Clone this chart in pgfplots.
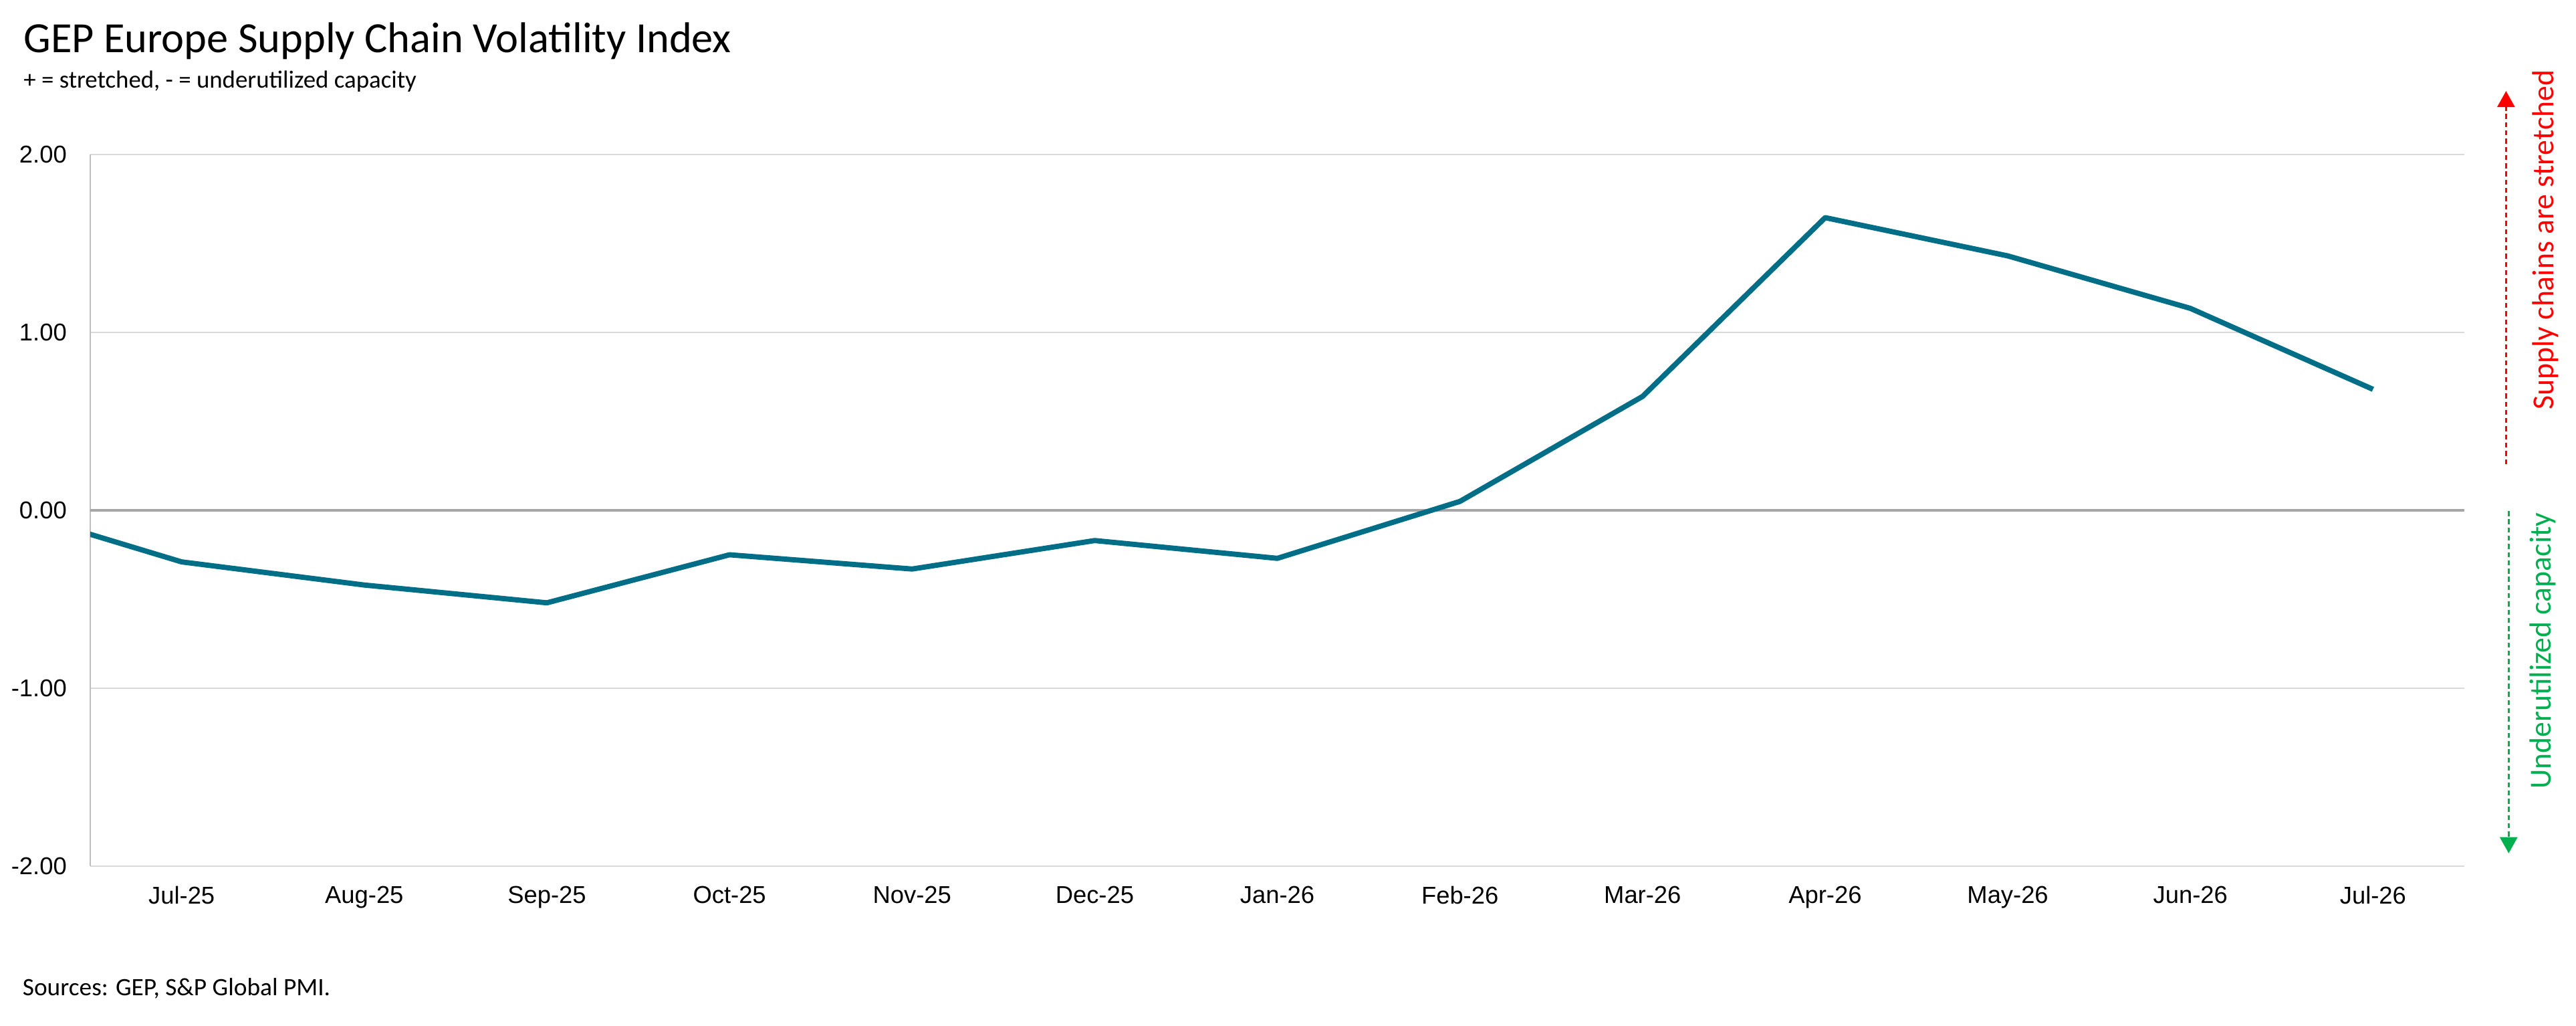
\documentclass[border=0pt]{standalone}
\usepackage{fontspec}
\setmainfont{Carlito}
\newfontfamily\arialf{Liberation Sans}
\usepackage{pgfplots}
\pgfplotsset{compat=1.18}
\usetikzlibrary{arrows.meta}
\definecolor{lineteal}{RGB}{0,110,135}
\definecolor{gridgray}{RGB}{217,217,217}
\definecolor{zerogray}{RGB}{166,166,166}
\definecolor{axgray}{RGB}{191,191,191}
\definecolor{xlgreen}{RGB}{0,176,80}
\begin{document}
\begin{tikzpicture}[x=1pt,y=1pt]
\useasboundingbox (0,0) rectangle (784,312);
\fill[white] (0,0) rectangle (784,312);
\node[anchor=base west, inner sep=0pt, font=\fontsize{13.1}{15}\selectfont] at (7,296) {GEP Europe Supply Chain Volatility Index};
\node[anchor=base west, inner sep=0pt, font=\fontsize{7.5}{9}\selectfont] at (7,285.2) {+ = stretched, - = underutilized capacity};
\node[anchor=base west, inner sep=0pt, font=\fontsize{7.6}{9}\selectfont] at (6.7,9.2) {Sources: GEP, S\&P Global PMI.};
\begin{axis}[at={(27.5pt,48.5pt)}, anchor=south west, scale only axis,
  width=722.5pt, height=216.5pt,
  xmin=0.5, xmax=13.5, ymin=-2, ymax=2,
  axis lines*=left,
  x axis line style={draw=none},
  y axis line style={draw=axgray, line width=0.5pt},
  major tick length=0pt,
  ymajorgrids,
  major grid style={draw=gridgray, line width=0.4pt},
  xtick={1,...,13},
  xticklabels={Jul-25,Aug-25,Sep-25,Oct-25,Nov-25,Dec-25,Jan-26,Feb-26,Mar-26,Apr-26,May-26,Jun-26,Jul-26},
  ytick={-2,-1,0,1,2},
  yticklabels={-2.00,-1.00,0.00,1.00,2.00},
  extra y ticks={0},
  extra y tick labels={},
  extra y tick style={major grid style={draw=zerogray, line width=0.7pt}},
  xticklabel style={font=\arialf\fontsize{7.4}{9}\selectfont, anchor=north, inner sep=0pt, yshift=-5.9pt},
  yticklabel style={font=\arialf\fontsize{7.4}{9}\selectfont, anchor=east, inner sep=0pt, xshift=-7pt},
]
\addplot[lineteal, line width=1.6pt, line join=round, mark=none] coordinates {
 (0,0.02) (1,-0.29) (2,-0.42) (3,-0.52) (4,-0.25) (5,-0.33) (6,-0.17) (7,-0.27)
 (8,0.05) (9,0.64) (10,1.645) (11,1.43) (12,1.135) (13,0.68)};
\end{axis}
\draw[red, line width=0.6pt, dash pattern=on 1.5pt off 1pt, -{Triangle[width=5.3pt,length=4.9pt]}] (762.7,170.8) -- (762.7,284.3);
\draw[xlgreen, line width=0.6pt, dash pattern=on 1.5pt off 1pt, -{Triangle[width=5.3pt,length=4.9pt]}] (763.5,156.5) -- (763.5,52.4);
\node[rotate=90, text=red, inner sep=0pt, font=\fontsize{9.3}{11}\selectfont] at (774.7,239) {Supply chains are stretched};
\node[rotate=90, text=xlgreen, inner sep=0pt, font=\fontsize{9.3}{11}\selectfont] at (773.8,114) {Underutilized capacity};
\end{tikzpicture}
\end{document}
